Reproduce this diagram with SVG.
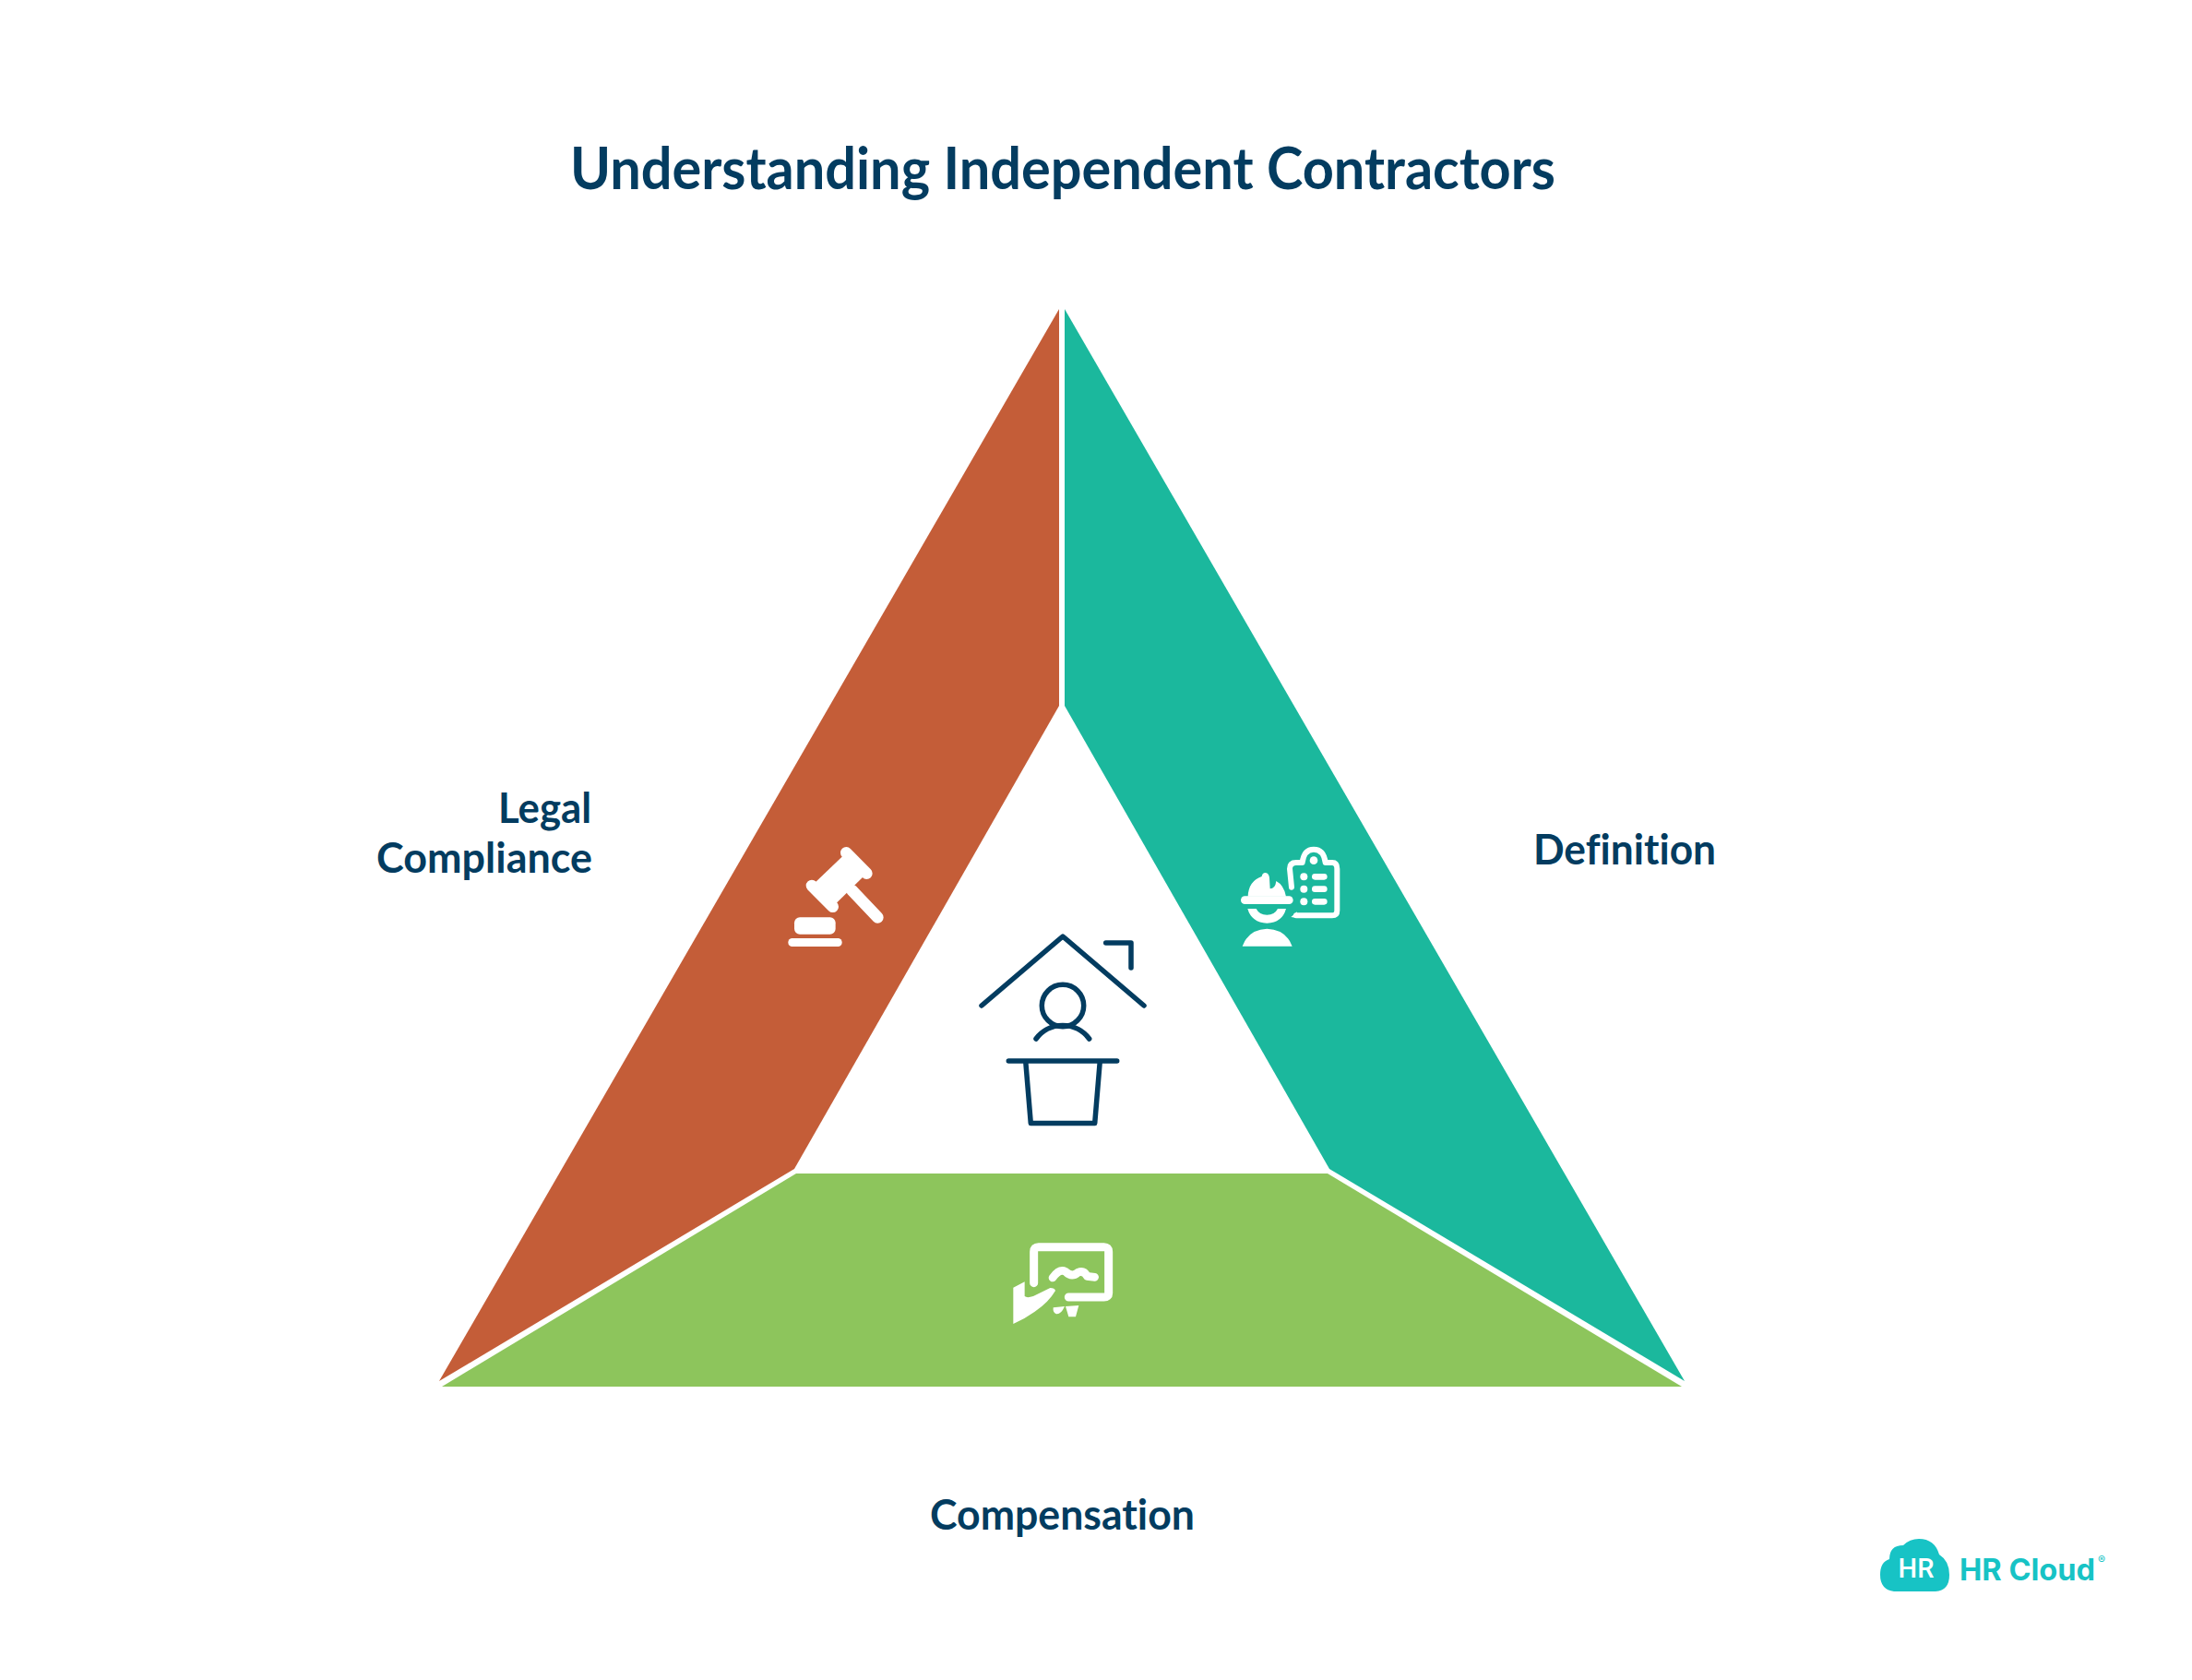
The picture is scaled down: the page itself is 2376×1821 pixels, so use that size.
<svg xmlns="http://www.w3.org/2000/svg" width="2376" height="1821" viewBox="0 0 2376 1821">
<style>
.t{font-family:Lato,"Liberation Sans",sans-serif;font-weight:700;fill:#033c60}
.l{font-size:46px}
.nl{font-variant-ligatures:none}
.w{fill:#fff}
.ws{fill:none;stroke:#fff;stroke-linecap:round;stroke-linejoin:round}
.n{fill:none;stroke:#033c60;stroke-width:5.5;stroke-linecap:round;stroke-linejoin:round}
</style>
<rect width="2376" height="1821" fill="#fff"/>
<text class="t" x="618" y="205" font-size="63" textLength="1068" lengthAdjust="spacingAndGlyphs">Understanding Independent Contractors</text>
<g id="legal">
<polygon points="1148,335 1148,765 861,1267 476,1497" fill="#c45d38"/>
<g transform="translate(840 900) scale(.3333)">
<path class="ws" stroke-width="38" d="M232,73 298,140M120,180 188,248M250,195 334,283"/>
<polygon class="w" points="232,73 298,140 188,248 120,180"/>
<rect class="w" x="63" y="283" width="134" height="55" rx="18"/>
<rect class="w" x="43" y="351" width="175" height="27" rx="13"/>
</g>
<text class="t l" x="540" y="892" textLength="101" lengthAdjust="spacingAndGlyphs">Legal</text>
<text class="t l" x="408" y="946" textLength="234" lengthAdjust="spacingAndGlyphs">Compliance</text>
</g>
<g id="definition">
<polygon points="1154,335 1826,1497 1441,1267 1154,765" fill="#1bb89d"/>
<g transform="translate(1320 900) scale(.3333)">
<path class="ws" stroke-width="18" d="M240,185 234,125Q234,105 255,105H275Q280,62 312,62Q345,62 350,105H372Q388,105 388,125V260Q388,277 372,277H255"/>
<path class="w" d="M238,282 258,265V285ZM98,215Q100,165 143,150Q145,138 155,138Q167,140 168,155L170,190Q187,190 190,165Q215,178 222,215ZM97,255H125Q135,275 160,275Q185,275 195,255H222Q210,300 160,302Q110,300 97,255ZM80,377Q100,322 160,320Q222,322 242,377Z"/>
<circle class="w" cx="312" cy="98" r="13"/>
<circle class="w" cx="280" cy="151" r="12"/><circle class="w" cx="280" cy="191" r="12"/><circle class="w" cx="280" cy="232" r="12"/>
<path class="ws" stroke-width="20" d="M316,151H346M316,191H346M316,232H346"/>
<path class="ws" stroke-width="26" d="M88,227H232"/>
</g>
<text class="t l nl" x="1662" y="937" textLength="198" lengthAdjust="spacingAndGlyphs">Definition</text>
</g>
<g id="compensation">
<polygon points="479,1503 863,1272 1439,1272 1823,1503" fill="#8dc55c"/>
<g transform="translate(1080 1330) scale(.3333)">
<path class="ws" stroke-width="27" d="M122,182V80Q122,65 137,65H350Q365,65 365,80V215Q365,228 350,228H235"/>
<path class="ws" stroke-width="26" d="M183,165Q205,135 225,145Q245,165 265,148Q285,140 295,160L320,163"/>
<path class="w" d="M55,197 92,178V225Q100,232 120,225L175,198Q190,198 192,207Q170,245 125,275Q90,300 55,315ZM185,262 222,258Q210,285 195,283Q183,278 185,262ZM225,258 268,255 258,292H235Z"/>
</g>
<text class="t l nl" x="1008" y="1658" textLength="287" lengthAdjust="spacingAndGlyphs">Compensation</text>
</g>
<g id="center">
<path class="n" d="M1064,1090 1152,1015 1240,1090M1198.700,1022H1226V1049"/>
<circle class="n" cx="1152" cy="1090" r="22.700"/>
<path class="n" d="M1123,1126A36,36 0 0 1 1180.700,1126M1093.300,1150H1210.700M1111.700,1150 1117.300,1217.500H1186.700L1192.300,1150"/>
</g>
<g id="logo">
<path fill="#17c3c5" d="M2053,1725Q2038,1723 2038,1707Q2038,1693 2048,1690Q2048,1675 2063,1675Q2070,1668 2080,1668Q2097,1668 2102,1685Q2113,1692 2113,1707Q2113,1724 2098,1725Z"/>
<text x="2077" y="1710" font-family="Roboto,sans-serif" font-weight="500" font-size="29" fill="#fff" text-anchor="middle">HR</text>
<text x="2124" y="1713" font-family="Inter,sans-serif" font-weight="700" font-size="32" fill="#17c3c5" textLength="147" lengthAdjust="spacingAndGlyphs">HR Cloud</text>
<text x="2278" y="1695" font-family="Inter,sans-serif" font-size="12" fill="#17c3c5" text-anchor="middle">®</text>
</g>
</svg>
